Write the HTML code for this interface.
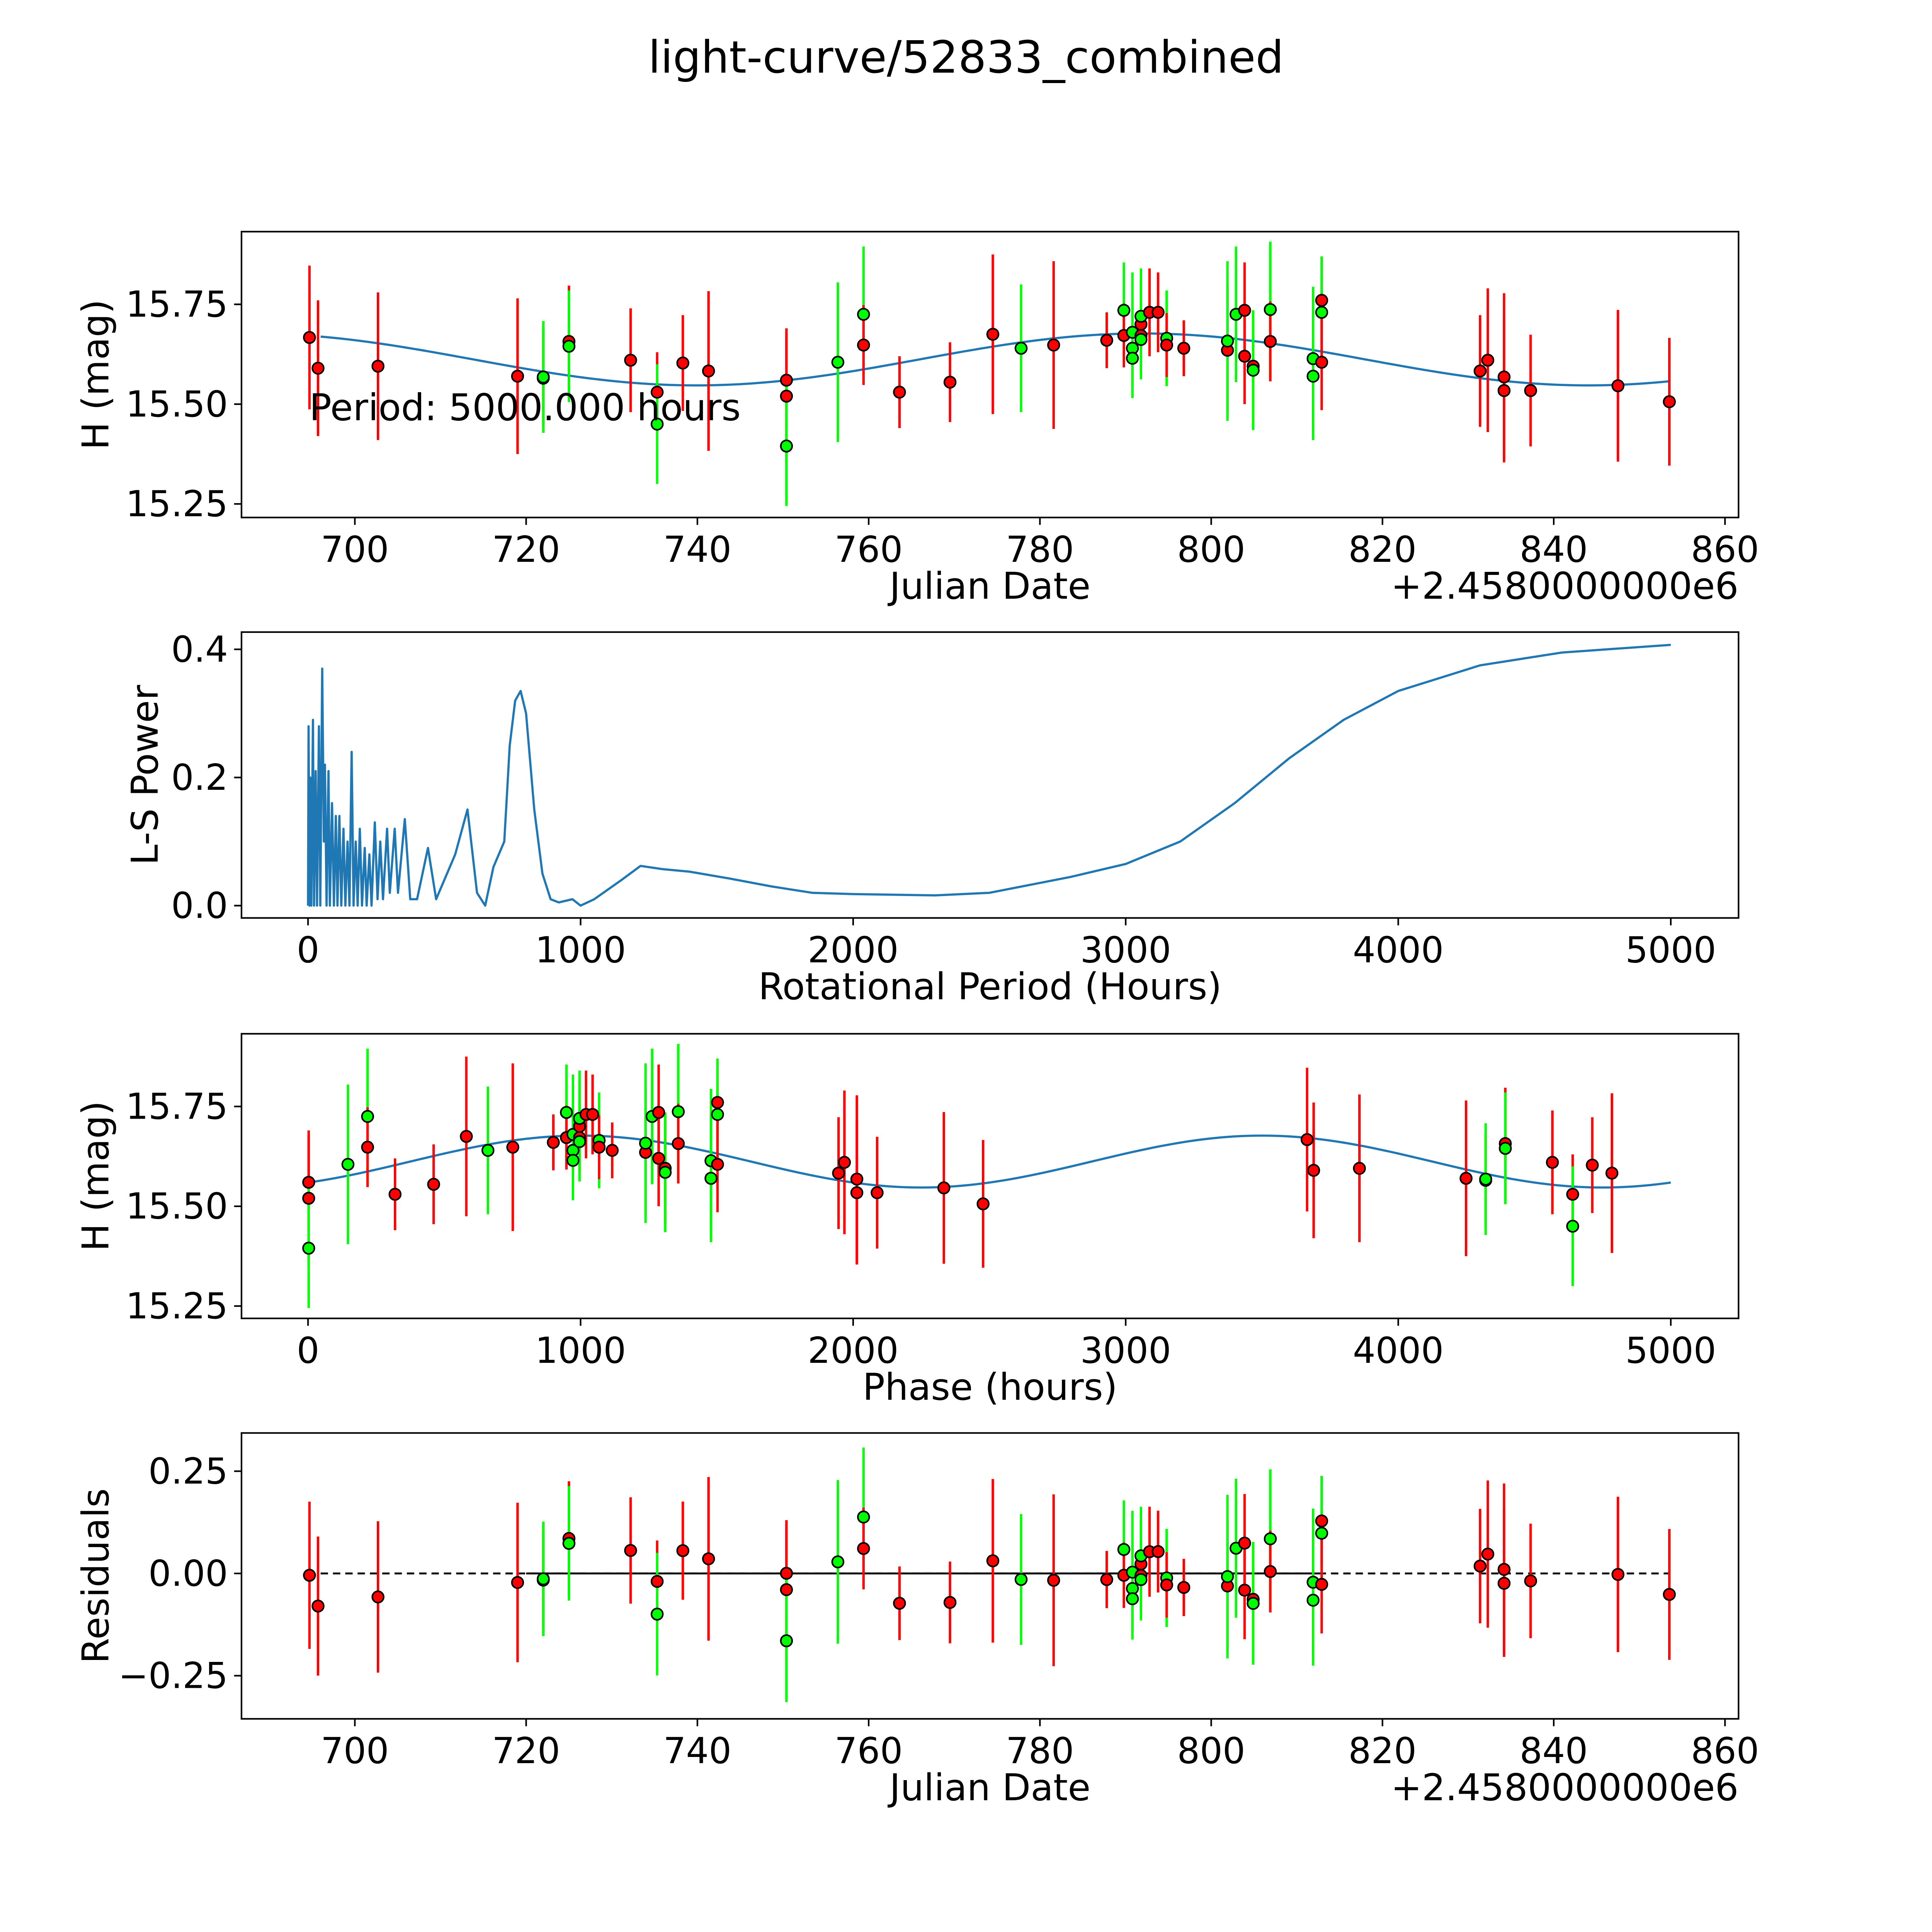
<!DOCTYPE html>
<html><head><meta charset="utf-8">
<style>html,body{margin:0;padding:0;background:#fff;overflow:hidden;width:100vw;height:100vh}svg{display:block;width:100vw;height:100vh}text{font-family:"DejaVu Sans","Liberation Sans",sans-serif;fill:#000}</style>
</head><body>
<svg id="fig" xmlns="http://www.w3.org/2000/svg" viewBox="0 0 1568 1568" preserveAspectRatio="none">
<rect width="1568" height="1568" fill="#fff"/>
<text x="784" y="59" font-size="36" text-anchor="middle">light-curve/52833_combined</text>
</svg>
<script>
// ---- data ----
const dates = [694.7,695.7,702.7,719,722,722,725,725,732.2,735.3,735.3,738.3,741.3,750.4,750.4,750.4,756.4,759.4,759.4,763.6,769.5,774.5,777.8,781.6,787.8,789.8,789.8,790.8,790.8,790.8,791.8,791.8,791.8,791.8,792.8,793.8,794.8,794.8,796.8,801.9,801.9,802.9,803.9,803.9,804.9,804.9,806.9,806.9,811.9,811.9,812.9,812.9,812.9,831.4,832.3,834.2,834.2,837.3,847.5,853.5];
const mags = [15.667,15.59,15.595,15.57,15.565,15.568,15.657,15.645,15.61,15.53,15.45,15.603,15.583,15.56,15.52,15.395,15.605,15.725,15.648,15.53,15.555,15.675,15.64,15.648,15.66,15.735,15.672,15.68,15.64,15.615,15.70,15.672,15.72,15.662,15.73,15.73,15.665,15.648,15.64,15.635,15.658,15.725,15.735,15.62,15.595,15.585,15.737,15.657,15.614,15.57,15.76,15.73,15.605,15.583,15.61,15.568,15.534,15.534,15.546,15.506];
const errs = [0.18,0.17,0.185,0.195,0.12,0.14,0.14,0.14,0.13,0.1,0.15,0.12,0.2,0.12,0.17,0.15,0.2,0.17,0.1,0.09,0.1,0.2,0.16,0.21,0.07,0.12,0.08,0.15,0.12,0.1,0.11,0.09,0.12,0.1,0.11,0.1,0.12,0.08,0.07,0.16,0.2,0.17,0.12,0.12,0.14,0.15,0.17,0.1,0.18,0.16,0.11,0.14,0.12,0.14,0.18,0.21,0.18,0.14,0.19,0.16];
const bands = ['r','r','r','r','r','g','r','g','r','r','g','r','r','r','r','g','g','g','r','r','r','r','g','r','r','g','r','g','g','g','r','r','g','g','r','r','g','r','r','r','g','g','r','r','r','g','g','r','g','g','r','g','r','r','r','r','r','r','r','r'];
const periods = [0,2,5,8,12,18,22,28,33,40,45,52,58,62,68,75,80,88,95,102,108,115,122,130,137,145,152,160,167,175,182,190,198,208,215,225,233,245,255,265,275,290,300,318,330,355,375,400,440,470,510,540,585,620,650,680,720,740,760,780,800,830,860,890,920,970,1000,1050,1150,1220,1300,1400,1550,1700,1850,2000,2300,2500,2800,3000,3200,3400,3600,3800,4000,4300,4600,5000];
const power = [0,0.28,0,0.2,0,0.29,0,0.21,0,0.28,0,0.37,0.1,0.22,0,0.21,0,0.16,0,0.14,0,0.14,0,0.12,0,0.1,0,0.24,0,0.1,0,0.12,0,0.09,0,0.08,0,0.13,0.01,0.1,0.01,0.12,0.02,0.12,0.02,0.135,0.01,0.01,0.09,0.01,0.05,0.08,0.15,0.02,0,0.06,0.1,0.25,0.32,0.335,0.3,0.15,0.05,0.01,0.005,0.01,0,0.01,0.04,0.062,0.057,0.053,0.042,0.03,0.02,0.018,0.016,0.02,0.045,0.065,0.1,0.16,0.23,0.29,0.335,0.375,0.395,0.407];
const modelMean = 15.612, modelAmp = 0.065, modelPeakPhase = 1000, periodHours = 5000, epoch = 750.3;
const jdTicks = [700,720,740,760,780,800,820,840,860];
const magTicks = [15.25,15.50,15.75];
const powTicks = [0.0,0.2,0.4];
const hourTicks = [0,1000,2000,3000,4000,5000];
const resTicks = [-0.25,0.00,0.25];

// ---- helpers ----
const NS='http://www.w3.org/2000/svg';
const svg=document.getElementById('fig');
function mk(tag,attrs,parent){const e=document.createElementNS(NS,tag);for(const k in attrs)e.setAttribute(k,attrs[k]);(parent||svg).appendChild(e);return e;}
function lin(d0,d1,r0,r1){return v=>r0+(v-d0)*(r1-r0)/(d1-d0);}
const phaseOf = d => (((d-epoch)*24)%periodHours+periodHours)%periodHours;
const model = ph => modelMean + modelAmp*Math.cos(2*Math.PI*2*(ph-modelPeakPhase)/periodHours);
const modelDate = d => model(phaseOf(d));
const COL={r:'#ff0000',g:'#00ff00'};
const L=196,R=1411;

function axes(name,top,bot,xs,ys,xt,yt,xfmt,yfmt,xlabel,ylabel,offset){
  const g=mk('g',{});
  
  
  xt.forEach(v=>{const x=xs(v);mk('line',{x1:x,x2:x,y1:bot,y2:bot+6,stroke:'#000','stroke-width':1.3},g);
    const t=mk('text',{x:x,y:bot+36,'font-size':29,'text-anchor':'middle'},g);t.textContent=xfmt(v);
    });
  yt.forEach(v=>{const y=ys(v);mk('line',{x1:L-6,x2:L,y1:y,y2:y,stroke:'#000','stroke-width':1.3},g);
    const t=mk('text',{x:L-11,y:y+10,'font-size':29,'text-anchor':'end'},g);t.textContent=yfmt(v);
    });
  const xl=mk('text',{x:(L+R)/2,y:bot+66,'font-size':30,'text-anchor':'middle'},g);xl.textContent=xlabel;
  
  const cy=(top+bot)/2;
  const yl=mk('text',{x:0,y:0,'font-size':30,'text-anchor':'middle',transform:`translate(${ylabel[1]},${cy}) rotate(-90)`},g);yl.textContent=ylabel[0];
  
  if(offset){const o=mk('text',{x:R,y:bot+66,'font-size':30,'text-anchor':'end'},g);o.textContent=offset;
    }
  return g;
}
function frame(top,bot){const r=mk('rect',{x:L,y:top,width:R-L,height:bot-top,fill:'none',stroke:'#000','stroke-width':1.3});
  }
function errPoints(xs,ys,xv,yv){
  xv.forEach((x,i)=>{const l=mk('line',{x1:xs(x),x2:xs(x),y1:ys(yv[i]-errs[i]),y2:ys(yv[i]+errs[i]),stroke:COL[bands[i]],'stroke-width':2});
    });
  xv.forEach((x,i)=>{const c=mk('circle',{cx:xs(x),cy:ys(yv[i]),r:4.6,fill:COL[bands[i]],stroke:'#000','stroke-width':1.3});
    });
}
function path(xs,ys,xv,yv,attrs){let d='';xv.forEach((x,i)=>{d+=(i?'L':'M')+xs(x).toFixed(2)+','+ys(yv[i]).toFixed(2);});
  const p=mk('path',Object.assign({d:d,fill:'none'},attrs));return p;}
const f2=v=>v.toFixed(2), f1=v=>v.toFixed(1), f0=v=>String(v);
const fr=v=>(v<0?'\u2212':'')+Math.abs(v).toFixed(2);

// ---- panel 1: light curve ----
{const top=188,bot=420;const xs=lin(700,860,288,1400),ys=lin(15.25,15.75,409,247);
 axes('light-curve-axes',top,bot,xs,ys,jdTicks,magTicks,f0,f2,'Julian Date',['H (mag)',88],'+2.4580000000e6');
 const md=[],mv=[];for(let d=696;d<=853.5;d+=0.5){md.push(d);mv.push(modelDate(d));}
 const p=path(xs,ys,md,mv,{stroke:'#1f77b4','stroke-width':1.8});
 
 errPoints(xs,ys,dates,mags);
 const t=mk('text',{x:251,y:341,'font-size':30});t.textContent='Period: 5000.000 hours';
 
 frame(top,bot);}

// ---- panel 2: periodogram ----
{const top=513,bot=745;const xs=lin(0,5000,250,1356),ys=lin(0,0.4,735,527);
 axes('periodogram-axes',top,bot,xs,ys,hourTicks,powTicks,f0,f1,'Rotational Period (Hours)',['L-S Power',128]);
 const p=path(xs,ys,periods,power,{stroke:'#1f77b4','stroke-width':1.8,'stroke-linejoin':'round'});
 
 frame(top,bot);}

// ---- panel 3: phased ----
{const top=839,bot=1070;const xs=lin(0,5000,250,1356),ys=lin(15.25,15.75,1060,898);
 axes('phase-axes',top,bot,xs,ys,hourTicks,magTicks,f0,f2,'Phase (hours)',['H (mag)',88]);
 const px=[],pv=[];for(let ph=0;ph<=5000;ph+=25){px.push(ph);pv.push(model(ph));}
 const p=path(xs,ys,px,pv,{stroke:'#1f77b4','stroke-width':1.8});
 
 errPoints(xs,ys,dates.map(phaseOf),mags);
 frame(top,bot);}

// ---- panel 4: residuals ----
{const top=1163,bot=1395;const xs=lin(700,860,288,1400),ys=lin(-0.25,0.25,1360,1194);
 axes('residuals-axes',top,bot,xs,ys,jdTicks,resTicks,f0,fr,'Julian Date',['Residuals',88],'+2.4580000000e6');
 const z=mk('line',{x1:xs(696),x2:xs(853.5),y1:ys(0),y2:ys(0),stroke:'#000','stroke-width':1.5,'stroke-dasharray':'6,4'});
 
 const s=mk('line',{x1:xs(720),x2:xs(813),y1:ys(0),y2:ys(0),stroke:'#000','stroke-width':1.5});
 
 errPoints(xs,ys,dates,mags.map((m,i)=>m-modelDate(dates[i])));
 frame(top,bot);}
</script>
</body></html>
